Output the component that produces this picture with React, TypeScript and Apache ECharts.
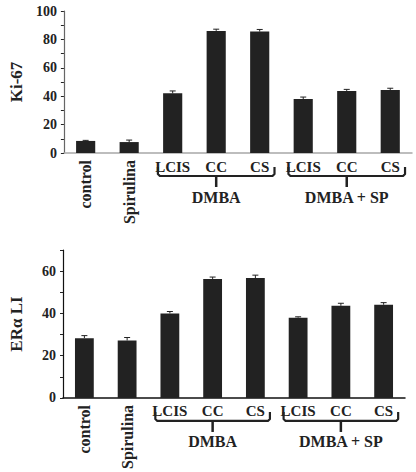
import { useEffect, useRef } from "react";
import * as echarts from "echarts";

const INK = "#222222";
const FONT = "Liberation Serif";

// 8 groups, the last six are the DMBA-treated subgroups
const CATEGORIES = ["control", "Spirulina", "LCIS", "CC", "CS", "LCIS", "CC", "CS"];
const ROTATED = [true, true, false, false, false, false, false, false];

const KI67 = [8.5, 7.7, 42, 86, 85.5, 38, 43.7, 44.4];
const KI67_SE = [0.4, 1.4, 1.7, 1.2, 1.5, 1.4, 1.1, 1.2];
const KI67_LABELS = [0, 20, 40, 60, 80, 100];

const ERA = [28.3, 27.2, 40, 56.3, 56.7, 38, 43.6, 44.1];
const ERA_SE = [1.2, 1.4, 0.9, 0.9, 1.4, 0.4, 1.2, 1.0];
const ERA_LABELS = [0, 20, 40, 60];

const BRACKETS = [
  { name: "DMBA", from: 2, to: 4 },
  { name: "DMBA + SP", from: 5, to: 7 },
];

const errorItem = (_p: any, api: any) => {
  const base = api.coord([api.value(0), api.value(1)]);
  const top = api.coord([api.value(0), api.value(2)]);
  const style = { stroke: INK, lineWidth: 1 };
  return {
    type: "group",
    children: [
      { type: "line", shape: { x1: base[0], y1: base[1], x2: top[0], y2: top[1] }, style },
      { type: "line", shape: { x1: top[0] - 3, y1: top[1], x2: top[0] + 3, y2: top[1] }, style },
    ],
  };
};

// curly-ish bracket under a run of categories, with the group name below it
const bracketItem = (p: any, api: any) => {
  const g = BRACKETS[p.dataIndex];
  const a = api.coord([api.value(0), 0]);
  const b = api.coord([api.value(2), 0]);
  const bw = api.size([1, 0])[0];
  const x1 = a[0] - bw * 0.34;
  const x2 = b[0] + bw * 0.34;
  const mid = (a[0] + b[0]) / 2;
  const y0 = a[1];
  return {
    type: "group",
    children: [
      {
        type: "polyline",
        shape: {
          points: [[x1, y0 + 14], [x1, y0 + 21], [x1 + 2, y0 + 23], [x2 - 2, y0 + 23], [x2, y0 + 21], [x2, y0 + 14]],
        },
        style: { stroke: INK, lineWidth: 2.2, lineJoin: "round", fill: "none" },
      },
      { type: "line", shape: { x1: mid, y1: y0 + 23, x2: mid, y2: y0 + 34 }, style: { stroke: INK, lineWidth: 2.5 } },
      {
        type: "text",
        style: {
          text: g.name,
          x: mid,
          y: y0 + 44,
          align: "center",
          verticalAlign: "middle",
          fontFamily: FONT,
          fontWeight: "bold",
          fontSize: 16,
          fill: INK,
        },
      },
    ],
  };
};

function panel(grid: number, values: number[], se: number[], labels: number[], yMax: number, axisColor: string, yColor: string) {
  const xAxes = [
    {
      type: "category",
      gridIndex: grid,
      position: "bottom",
      data: CATEGORIES,
      axisLine: { lineStyle: { color: axisColor, width: 1.5 } },
      axisTick: { length: 3, lineStyle: { color: INK } },
      axisLabel: {
        interval: 0,
        margin: 6,
        color: INK,
        fontFamily: FONT,
        fontWeight: "bold",
        fontSize: 15,
        formatter: (v: string, i: number) => (ROTATED[i] ? "" : v),
      },
    },
    {
      // second, label-only axis for the vertical category names
      type: "category",
      gridIndex: grid,
      position: "bottom",
      data: CATEGORIES,
      axisLine: { show: false },
      axisTick: { show: false },
      axisLabel: {
        interval: 0,
        rotate: 90,
        margin: 7,
        color: INK,
        fontFamily: FONT,
        fontWeight: "bold",
        fontSize: 16,
        formatter: (v: string, i: number) => (ROTATED[i] ? v : ""),
      },
    },
  ];
  const yAxis = {
    type: "value",
    gridIndex: grid,
    min: 0,
    max: yMax,
    interval: 10,
    splitLine: { show: false },
    axisLine: { show: true, lineStyle: { color: yColor, width: 1.2 } },
    axisTick: { show: true, length: 3, lineStyle: { color: INK } },
    axisLabel: {
      margin: 7,
      color: INK,
      fontFamily: FONT,
      fontWeight: "bold",
      fontSize: 14,
      formatter: (v: number) => (labels.includes(v) ? String(v) : ""),
    },
  };
  const series = [
    {
      type: "bar",
      xAxisIndex: grid * 2,
      yAxisIndex: grid,
      data: values,
      barWidth: "44%",
      itemStyle: { color: INK },
    },
    {
      type: "custom",
      xAxisIndex: grid * 2,
      yAxisIndex: grid,
      data: values.map((v, i) => [i, v, v + se[i]]),
      encode: { x: 0, y: [1, 2] },
      renderItem: errorItem,
      z: 3,
    },
    {
      type: "custom",
      xAxisIndex: grid * 2,
      yAxisIndex: grid,
      data: BRACKETS.map((b) => [b.from, 0, b.to]),
      encode: { x: 0, y: 1 },
      renderItem: bracketItem,
      clip: false,
      silent: true,
    },
  ];
  return { xAxes, yAxis, series };
}

export default function App() {
  const elRef = useRef<HTMLDivElement>(null);

  useEffect(() => {
    const el = elRef.current;
    if (!el) return;
    const chart = echarts.init(el, undefined, { renderer: "svg" });

    const top = panel(0, KI67, KI67_SE, KI67_LABELS, 100, "#a8a8a8", "#666666");
    const bottom = panel(1, ERA, ERA_SE, ERA_LABELS, 70, "#111111", "#111111");

    const nameStyle = { color: INK, fontFamily: FONT, fontWeight: "bold", fontSize: 17 };

    chart.setOption({
      animation: false,
      grid: [
        { left: 52, top: 11, width: 360, height: 142 },
        { left: 52, top: 250, width: 353, height: 149 },
      ],
      xAxis: [...top.xAxes, ...bottom.xAxes],
      yAxis: [
        { ...top.yAxis, name: "Ki-67", nameLocation: "middle", nameGap: 38, nameTextStyle: nameStyle },
        { ...bottom.yAxis, name: "ERα LI", nameLocation: "middle", nameGap: 38, nameTextStyle: nameStyle },
      ],
      series: [...top.series, ...bottom.series],
    });

    return () => chart.dispose();
  }, []);

  return <div ref={elRef} style={{ position: "absolute", left: 0, top: 0, width: 416, height: 472 }} />;
}
